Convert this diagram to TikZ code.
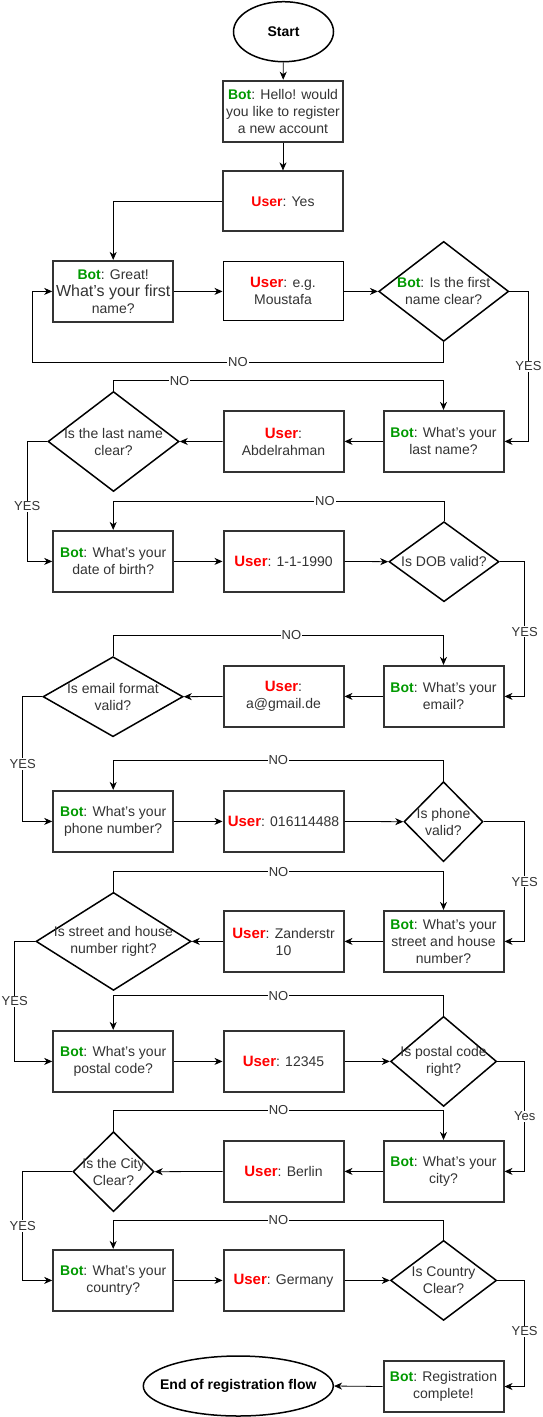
\documentclass[tikz,border=0pt]{standalone}
\usepackage{fontspec}
\setmainfont{Liberation Sans}
\usetikzlibrary{shapes.geometric,arrows.meta}

\definecolor{botgreen}{HTML}{009900}
\definecolor{userred}{HTML}{FF0000}
\definecolor{txtgray}{HTML}{333333}

\newcommand{\BotTag}{{\color{botgreen}\bfseries Bot}}
\newcommand{\UserTag}{{\fontsize{15}{17}\selectfont\color{userred}\bfseries User}}

\tikzset{
  msg/.style={rectangle, draw=black!80, line width=2pt, minimum width=120pt,
    minimum height=61pt, align=center, text=txtgray, inner sep=2pt,
    font=\fontsize{14}{17}\selectfont},
  thinmsg/.style={msg, draw=black, line width=1pt},
  check/.style={diamond, draw=black, line width=1.5pt, inner sep=0pt},
  checktxt/.style={align=center, text=txtgray, font=\fontsize{14}{17}\selectfont},
  term/.style={ellipse, draw=black, line width=1.5pt, minimum height=60pt, inner sep=0pt},
  termtxt/.style={font=\fontsize{14}{17}\selectfont\bfseries},
  flow/.style={-{Stealth[length=8pt,width=7pt,inset=2.5pt]}, line width=0.8pt},
  lbl/.style={fill=white, inner sep=1pt, text=txtgray, pos=0.25,
    font=\fontsize{13}{15}\selectfont}
}

\begin{document}
\begin{tikzpicture}[x=1pt, y=-1pt]
  \useasboundingbox (0,0) rectangle (542,1417);

  % opening
  \node[term, minimum width=100pt, label={[termtxt]center:Start}] (start) at (283.5,31.7) {};
  \node[msg] (hello) at (283,111.2) {\BotTag: Hello! would\\you like to register\\a new account};
  \node[msg, minimum height=60pt] (useryes) at (283,201.4) {{\color{userred}\bfseries User}: Yes};

  % first name
  \node[msg] (great) at (113.2,291.4) {\BotTag: Great!\\\fontsize{16}{18}\selectfont What{\char39}s your first\\name?};
  \node[thinmsg, minimum height=59pt] (moustafa) at (283,291.4) {\UserTag: e.g.\\Moustafa};
  \node[check, minimum width=130pt, minimum height=100pt,
    label={[checktxt]center:{\BotTag: Is the first\\name clear?}}] (d1) at (443.7,291.4) {};

  % last name
  \node[msg] (bname) at (443.5,441.4) {\BotTag: What’s your\\last name?};
  \node[msg] (uname) at (283.5,441.4) {\UserTag:\\Abdelrahman};
  \node[check, minimum width=131pt, minimum height=100pt,
    label={[checktxt]center:{Is the last name\\clear?}}] (d2) at (113.5,441.5) {};

  % date of birth
  \node[msg] (bdob) at (113.2,561.4) {\BotTag: What’s your\\date of birth?};
  \node[msg] (udob) at (283.5,561.4) {\UserTag: 1-1-1990};
  \node[check, minimum width=110pt, minimum height=80pt,
    label={[checktxt]center:{Is DOB valid?}}] (d3) at (444,561.7) {};

  % email
  \node[msg] (bmail) at (443.5,696.4) {\BotTag: What’s your\\email?};
  \node[msg] (umail) at (283.5,696.4) {\UserTag:\\a@gmail.de};
  \node[check, minimum width=140pt, minimum height=80pt,
    label={[checktxt]center:{Is email format\\valid?}}] (d4) at (113,696.7) {};

  % phone
  \node[msg] (bphone) at (113.2,821.4) {\BotTag: What’s your\\phone number?};
  \node[msg] (uphone) at (283.5,821.4) {\UserTag: 016114488};
  \node[check, minimum width=79pt, minimum height=80pt,
    label={[checktxt]center:{Is phone\\valid?}}] (d5) at (443.5,821.7) {};

  % street
  \node[msg] (bstreet) at (443.5,941.4) {\BotTag: What’s your\\street and house\\number?};
  \node[msg] (ustreet) at (283.5,941.4) {\UserTag: Zanderstr\\10};
  \node[check, minimum width=155pt, minimum height=98pt,
    label={[checktxt]center:{Is street and house\\number right?}}] (d6) at (113.5,941.4) {};

  % postal code
  \node[msg] (bpostal) at (113.2,1061.4) {\BotTag: What’s your\\postal code?};
  \node[msg] (upostal) at (283.5,1061.4) {\UserTag: 12345};
  \node[check, minimum width=106pt, minimum height=90pt,
    label={[checktxt]center:{Is postal code\\right?}}] (d7) at (443.6,1061.4) {};

  % city
  \node[msg] (bcity) at (443.5,1171.4) {\BotTag: What’s your\\city?};
  \node[msg] (ucity) at (283.5,1171.4) {\UserTag: Berlin};
  \node[check, minimum width=81pt, minimum height=80pt,
    label={[checktxt]center:{Is the City\\Clear?}}] (d8) at (113.5,1171.7) {};

  % country
  \node[msg] (bcountry) at (113.2,1280.4) {\BotTag: What’s your\\country?};
  \node[msg] (ucountry) at (283.5,1280.4) {\UserTag: Germany};
  \node[check, minimum width=106pt, minimum height=80pt,
    label={[checktxt]center:{Is Country\\Clear?}}] (d9) at (443.6,1280.4) {};

  % closing
  \node[msg, minimum height=51pt] (breg) at (443.5,1386.5) {\BotTag: Registration\\complete!};
  \node[term, minimum width=190pt, label={[termtxt]center:End of registration flow}] (finish) at (238.3,1386) {};

  % connectors
  \draw[flow] (start) -- (hello);
  \draw[flow] (hello) -- (useryes);
  \draw[flow] (useryes.west) -| (great.north);
  \draw[flow] (great.east) -- (moustafa.west);
  \draw[flow] (moustafa.east) -- (d1.west);
  \draw[flow] (d1.south) -- ++(0,20) -| node[lbl]{NO} ([xshift=-20pt]great.west) -- (great.west);
  \draw[flow] (d1.east) -- ++(19,0) |- node[lbl]{YES} (bname.east);

  \draw[flow] (bname.west) -- (uname.east);
  \draw[flow] (uname.west) -- (d2.east);
  \draw[flow] (d2.north) -- ++(0,-10) -| node[lbl, pos=0.1]{NO} (bname.north);
  \draw[flow] (d2.west) -- ++(-20,0) |- node[lbl, pos=0.27]{YES} (bdob.west);

  \draw[flow] (bdob.east) -- (udob.west);
  \draw[flow] (udob.east) -- (d3.west);
  \draw[flow] (d3.north) -- ++(0,-20) -| node[lbl, pos=0.18]{NO} (bdob.north);
  \draw[flow] (d3.east) -- ++(25,0) |- node[lbl, pos=0.26]{YES} (bmail.east);

  \draw[flow] (bmail.west) -- (umail.east);
  \draw[flow] (umail.west) -- (d4.east);
  \draw[flow] (d4.north) -- ++(0,-20.7) -| node[lbl, pos=0.27]{NO} (bmail.north);
  \draw[flow] (d4.west) -- ++(-19.5,0) |- node[lbl, pos=0.27]{YES} (bphone.west);

  \draw[flow] (bphone.east) -- (uphone.west);
  \draw[flow] (uphone.east) -- (d5.west);
  \draw[flow] (d5.north) -- ++(0,-20.7) -| node[lbl]{NO} (bphone.north);
  \draw[flow] (d5.east) -- ++(41,0) |- node[lbl]{YES} (bstreet.east);

  \draw[flow] (bstreet.west) -- (ustreet.east);
  \draw[flow] (ustreet.west) -- (d6.east);
  \draw[flow] (d6.north) -- ++(0,-20) -| node[lbl]{NO} (bstreet.north);
  \draw[flow] (d6.west) -- ++(-20.5,0) |- node[lbl]{YES} (bpostal.west);

  \draw[flow] (bpostal.east) -- (upostal.west);
  \draw[flow] (upostal.east) -- (d7.west);
  \draw[flow] (d7.north) -- ++(0,-20) -| node[lbl]{NO} (bpostal.north);
  \draw[flow] (d7.east) -- ++(27.3,0) |- node[lbl]{Yes} (bcity.east);

  \draw[flow] (bcity.west) -- (ucity.east);
  \draw[flow] (ucity.west) -- (d8.east);
  \draw[flow] (d8.north) -- ++(0,-20.7) -| node[lbl]{NO} (bcity.north);
  \draw[flow] (d8.west) -- ++(-49.5,0) |- node[lbl]{YES} (bcountry.west);

  \draw[flow] (bcountry.east) -- (ucountry.west);
  \draw[flow] (ucountry.east) -- (d9.west);
  \draw[flow] (d9.north) -- ++(0,-19.3) -| node[lbl]{NO} (bcountry.north);
  \draw[flow] (d9.east) -- ++(27.3,0) |- node[lbl, pos=0.24]{YES} (breg.east);

  \draw[flow] (breg.west) -- (finish.east);
\end{tikzpicture}
\end{document}
